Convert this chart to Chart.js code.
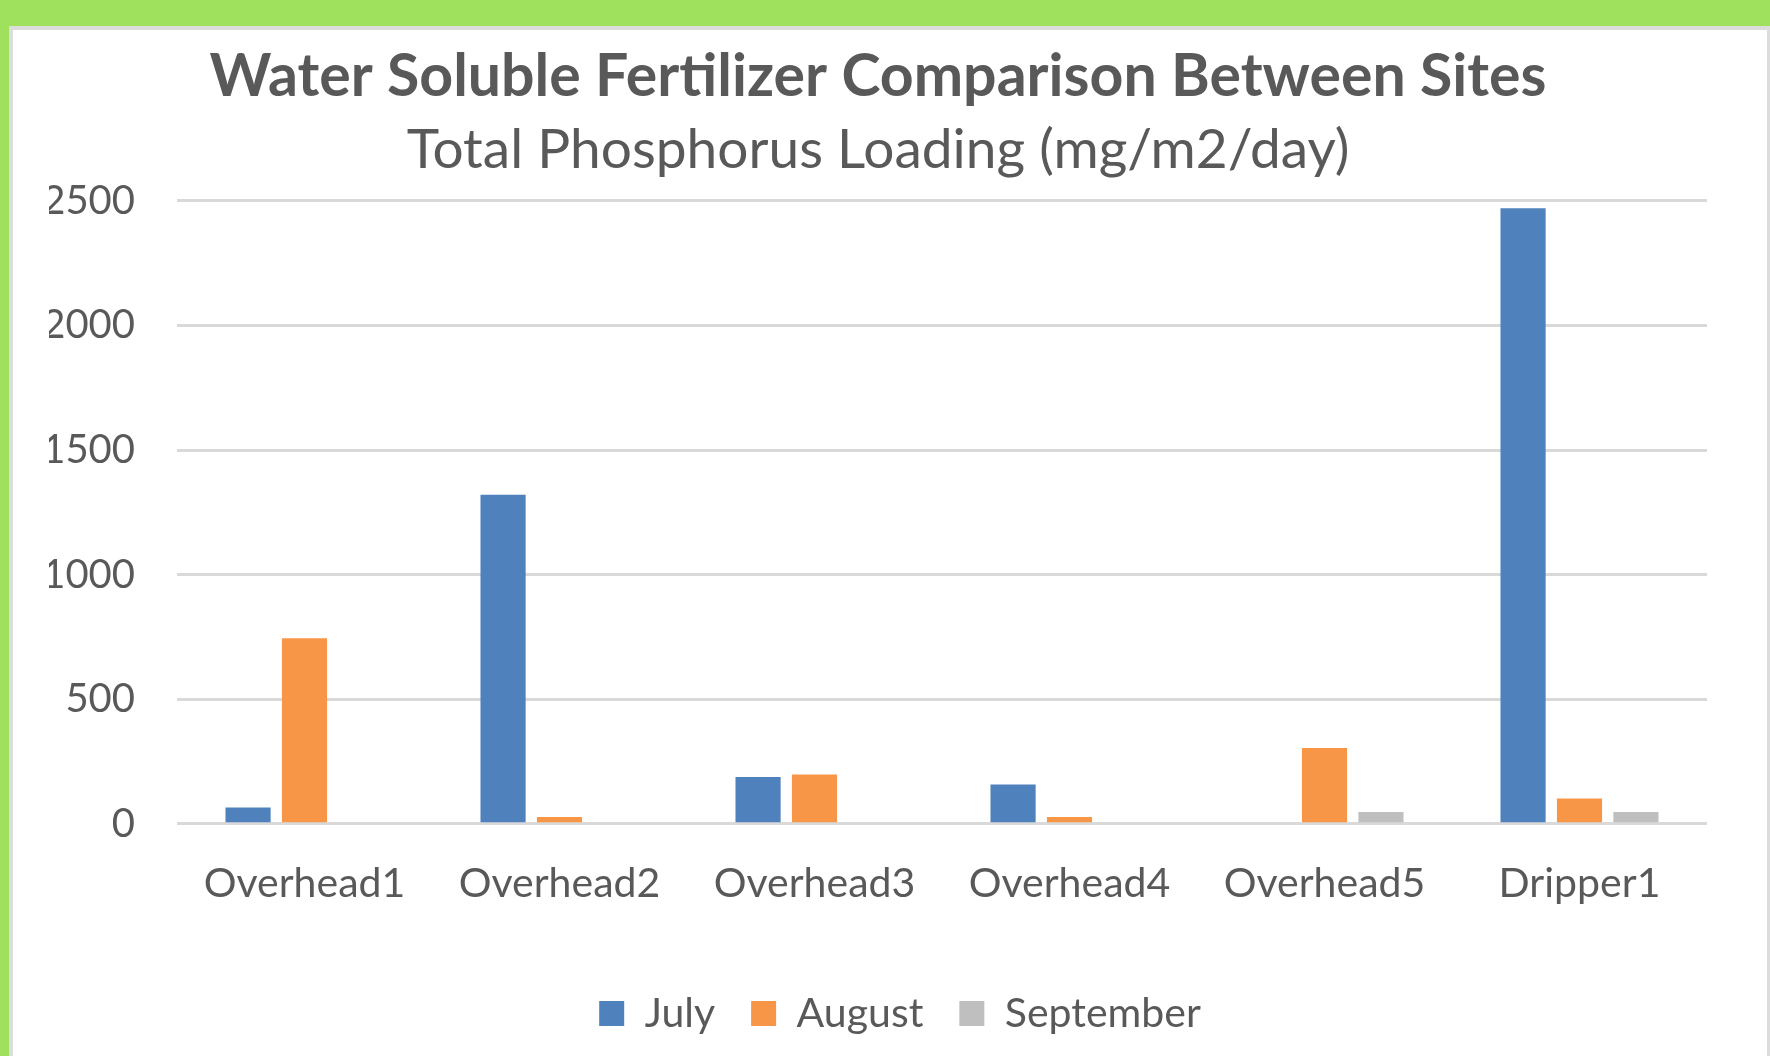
<!DOCTYPE html>
<html>
<head>
<meta charset="utf-8">
<script src="https://cdn.jsdelivr.net/npm/chart.js@4.4.1/dist/chart.umd.min.js"></script>
<style>
    html, body { margin: 0; padding: 0; }
    body { width: 1770px; height: 1056px; background: #9fe05c; position: relative; overflow: hidden; }
    .card {
        position: absolute; left: 9px; top: 26px; width: 1761px; height: 1030px;
        background: #fff; box-sizing: border-box;
        border-left: 4px solid #dcdcdc; border-top: 4px solid #dcdcdc; border-right: 3px solid #dcdcdc;
    }
    .chart-box { position: absolute; left: 0; top: 0; width: 1754px; height: 1026px; }
</style>
</head>
<body>
<div class="card">
    <div class="chart-box"><canvas id="siteChart"></canvas></div>
</div>
<script>
    const categories = ['Overhead1', 'Overhead2', 'Overhead3', 'Overhead4', 'Overhead5', 'Dripper1'];
    const julyValues = [65, 1320, 188, 158, null, 2470];
    const augustValues = [745, 27, 198, 27, 304, 102];
    const septemberValues = [null, null, null, null, 47, 47];
    const yTicks = [0, 500, 1000, 1500, 2000, 2500];

    const textColor = '#595959';
    const fontFamily = 'Lato, "Open Sans", sans-serif';

    // nudge the legend a little right, the way the original sits
    const legendShift = {
        id: 'legendShift',
        afterLayout(chart) {
            chart.legend.left += 22;
            chart.legend.right += 22;
        }
    };

    const ctx = document.getElementById('siteChart').getContext('2d');
    const siteChart = new Chart(ctx, {
        type: 'bar',
        data: {
            labels: categories,
            datasets: [
                { label: 'July', data: julyValues, backgroundColor: '#4f81bd' },
                { label: 'August', data: augustValues, backgroundColor: '#f79646' },
                { label: 'September', data: septemberValues, backgroundColor: '#bfbfbf' }
            ]
        },
        options: {
            responsive: true,
            maintainAspectRatio: false,
            animation: false,
            datasets: {
                bar: { categoryPercentage: 0.664, barPercentage: 0.8 }
            },
            layout: {
                padding: { left: 36, right: 60, top: 0, bottom: 12 }
            },
            plugins: {
                title: {
                    display: true,
                    text: 'Water Soluble Fertilizer Comparison Between Sites',
                    color: textColor,
                    font: { family: fontFamily, size: 59, weight: 'bold', lineHeight: 1.2 },
                    padding: { top: 12, bottom: 0 }
                },
                subtitle: {
                    display: true,
                    text: 'Total Phosphorus Loading (mg/m2/day)',
                    color: textColor,
                    font: { family: fontFamily, size: 55, lineHeight: 1.2 },
                    padding: { top: 4, bottom: 18 }
                },
                legend: {
                    position: 'bottom',
                    labels: {
                        color: textColor,
                        font: { family: fontFamily, size: 41 },
                        boxWidth: 25,
                        boxHeight: 25,
                        padding: 36
                    }
                },
                tooltip: { enabled: false }
            },
            scales: {
                x: {
                    grid: { display: false, drawTicks: false },
                    border: { display: false },
                    ticks: {
                        color: textColor,
                        font: { family: fontFamily, size: 41 },
                        padding: 35
                    },
                    afterFit: function(scale) {
                        scale.height += 14;
                    }
                },
                y: {
                    min: 0,
                    max: 2500,
                    grid: { color: '#d9d9d9', lineWidth: 3, drawTicks: false },
                    border: { display: false },
                    ticks: {
                        color: textColor,
                        font: { family: fontFamily, size: 40 },
                        padding: 42,
                        callback: function(value) {
                            return String(value);
                        }
                    },
                    afterBuildTicks: function(scale) {
                        scale.ticks = yTicks.map(v => ({ value: v }));
                    },
                    afterFit: function(scale) {
                        scale.width = 128;
                    }
                }
            }
        },
        plugins: [legendShift]
    });
</script>
</body>
</html>
